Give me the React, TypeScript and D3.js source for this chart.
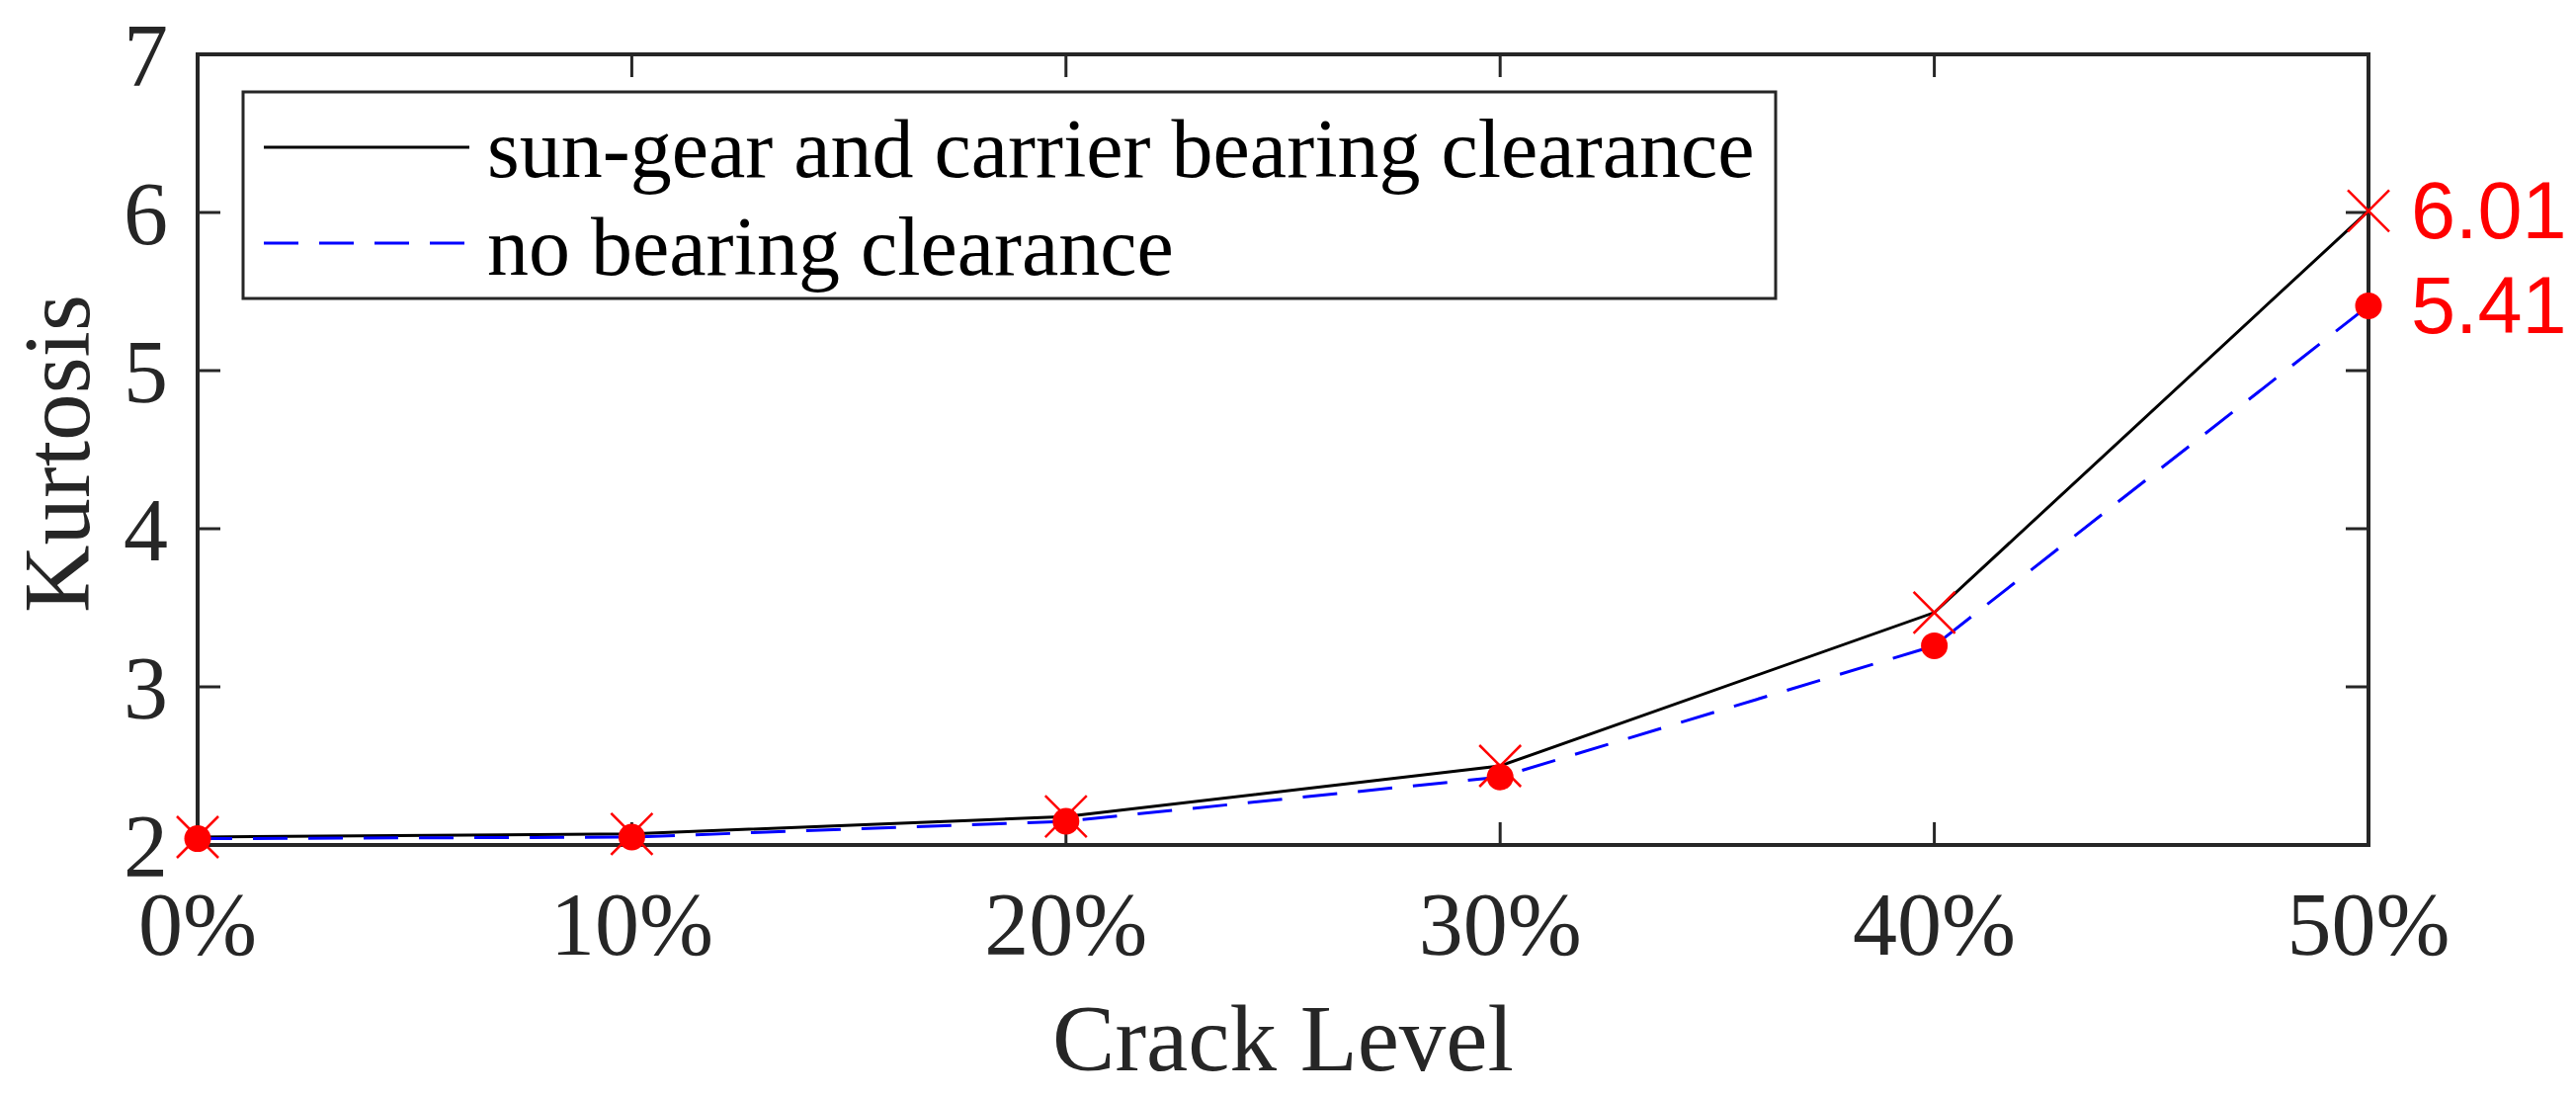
import React from "react";
import * as d3 from "d3";

const categories: string[] = ["0%", "10%", "20%", "30%", "40%", "50%"];
const sunGearClearance: number[] = [2.05, 2.07, 2.18, 2.5, 3.47, 6.01];
const noClearance: number[] = [2.04, 2.05, 2.15, 2.43, 3.26, 5.41];
const yTicks: number[] = [2, 3, 4, 5, 6, 7];
const legendLabels: string[] = ["sun-gear and carrier bearing clearance", "no bearing clearance"];
const xLabel = "Crack Level";
const yLabel = "Kurtosis";

const W = 2607;
const H = 1109;
const M = { left: 200, right: 2397, top: 55, bottom: 855 };
const AX = "#262626";
const SERIF = "'Liberation Serif', 'Times New Roman', serif";
const SANS = "'Liberation Sans', Arial, sans-serif";

export default function App() {
  const x = d3.scalePoint<string>().domain(categories).range([M.left, M.right]);
  const y = d3.scaleLinear().domain([2, 7]).range([M.bottom, M.top]);
  const line = d3
    .line<number>()
    .x((_, i) => x(categories[i]) as number)
    .y((d) => y(d));
  const tickLen = 23;
  const xr = 21;
  const dotR = 13.5;
  const lastX = x(categories[categories.length - 1]) as number;

  return (
    <svg
      width={W}
      height={H}
      style={{ position: "absolute", left: 0, top: 0, display: "block", background: "#fff" }}
    >
      <rect x={0} y={0} width={W} height={H} fill="#fff" />
      {/* ticks */}
      {categories.map((c) => (
        <g key={"xt" + c}>
          <line x1={x(c)} x2={x(c)} y1={M.bottom} y2={M.bottom - tickLen} stroke={AX} strokeWidth={3} />
          <line x1={x(c)} x2={x(c)} y1={M.top} y2={M.top + tickLen} stroke={AX} strokeWidth={3} />
          <text
            x={x(c)}
            y={966}
            textAnchor="middle"
            fontFamily={SERIF}
            fontSize={90}
            fill={AX}
          >
            {c}
          </text>
        </g>
      ))}
      {yTicks.map((t) => (
        <g key={"yt" + t}>
          <line x1={M.left} x2={M.left + tickLen} y1={y(t)} y2={y(t)} stroke={AX} strokeWidth={3} />
          <line x1={M.right} x2={M.right - tickLen} y1={y(t)} y2={y(t)} stroke={AX} strokeWidth={3} />
          <text
            x={M.left - 30}
            y={y(t) + 32}
            textAnchor="end"
            fontFamily={SERIF}
            fontSize={90}
            fill={AX}
          >
            {t}
          </text>
        </g>
      ))}
      {/* axes box */}
      <rect
        x={M.left}
        y={M.top}
        width={M.right - M.left}
        height={M.bottom - M.top}
        fill="none"
        stroke={AX}
        strokeWidth={4}
      />
      {/* series lines */}
      <path d={line(sunGearClearance) || ""} fill="none" stroke="#000" strokeWidth={3} />
      <path
        d={line(noClearance) || ""}
        fill="none"
        stroke="#0000ff"
        strokeWidth={3}
        strokeDasharray="35 21"
      />
      {/* markers */}
      {sunGearClearance.map((v, i) => {
        const cx = x(categories[i]) as number;
        const cy = y(v);
        return (
          <g key={"xm" + i} stroke="#ff0000" strokeWidth={2.5}>
            <line x1={cx - xr} y1={cy - xr} x2={cx + xr} y2={cy + xr} />
            <line x1={cx - xr} y1={cy + xr} x2={cx + xr} y2={cy - xr} />
          </g>
        );
      })}
      {noClearance.map((v, i) => (
        <circle key={"dm" + i} cx={x(categories[i])} cy={y(v)} r={dotR} fill="#ff0000" />
      ))}
      {/* value labels */}
      <text
        x={lastX + 43}
        y={y(sunGearClearance[sunGearClearance.length - 1])}
        dominantBaseline="central"
        fontFamily={SANS}
        fontSize={81}
        fill="#ff0000"
      >
        {sunGearClearance[sunGearClearance.length - 1].toFixed(2)}
      </text>
      <text
        x={lastX + 43}
        y={y(noClearance[noClearance.length - 1])}
        dominantBaseline="central"
        fontFamily={SANS}
        fontSize={81}
        fill="#ff0000"
      >
        {noClearance[noClearance.length - 1].toFixed(2)}
      </text>
      {/* legend */}
      <rect x={246} y={93} width={1797 - 246} height={302 - 93} fill="#fff" stroke={AX} strokeWidth={3} />
      <line x1={267} x2={475} y1={149} y2={149} stroke="#000" strokeWidth={3} />
      <line x1={267} x2={475} y1={246} y2={246} stroke="#0000ff" strokeWidth={3} strokeDasharray="35 21" />
      <text x={493} y={149 + 30} fontFamily={SERIF} fontSize={84} fill="#000">
        {legendLabels[0]}
      </text>
      <text x={493} y={246 + 32} fontFamily={SERIF} fontSize={84} fill="#000">
        {legendLabels[1]}
      </text>
      {/* axis labels */}
      <text
        x={(M.left + M.right) / 2}
        y={1083}
        textAnchor="middle"
        fontFamily={SERIF}
        fontSize={95}
        fill={AX}
      >
        {xLabel}
      </text>
      <text
        transform={`translate(90, ${(M.top + M.bottom) / 2 + 4}) rotate(-90)`}
        textAnchor="middle"
        fontFamily={SERIF}
        fontSize={95}
        fill={AX}
      >
        {yLabel}
      </text>
    </svg>
  );
}
